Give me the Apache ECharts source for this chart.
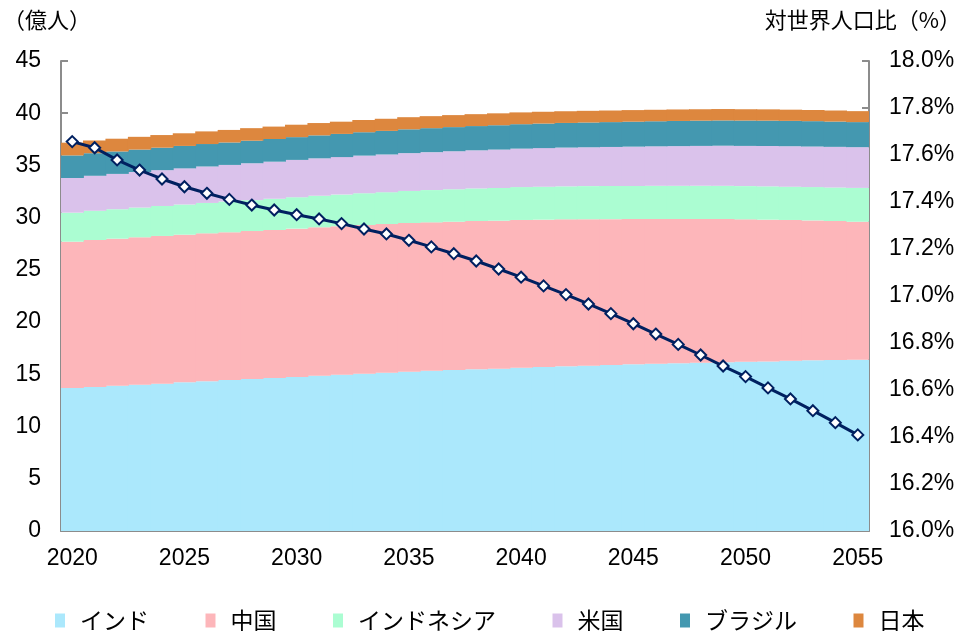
<!DOCTYPE html>
<html>
<head>
<meta charset="utf-8">
<script src="https://cdn.jsdelivr.net/npm/echarts@6/dist/echarts.min.js"></script>
<style>
html,body{margin:0;padding:0;background:#fff;}
#c{width:959px;height:631px;}
</style>
</head>
<body>
<div id="c"></div>
<script>
const years = [];
for (let y = 2020; y <= 2055; y++) years.push(String(y));

const seriesNames = ['インド', '中国', 'インドネシア', '米国', 'ブラジル', '日本'];

const india = [13.69, 13.79, 13.91, 14.01, 14.10, 14.24, 14.33, 14.46, 14.55, 14.65, 14.75, 14.87, 14.97, 15.06, 15.16, 15.25, 15.35, 15.42, 15.48, 15.54, 15.64, 15.70, 15.77, 15.83, 15.89, 15.96, 16.02, 16.05, 16.11, 16.15, 16.21, 16.24, 16.30, 16.34, 16.37, 16.40];
const china = [14.01, 14.07, 14.08, 14.11, 14.15, 14.13, 14.17, 14.14, 14.17, 14.17, 14.20, 14.21, 14.21, 14.24, 14.23, 14.24, 14.20, 14.19, 14.20, 14.17, 14.14, 14.11, 14.07, 14.02, 13.97, 13.91, 13.85, 13.82, 13.76, 13.72, 13.63, 13.57, 13.48, 13.40, 13.31, 13.21];
const indonesia = [2.78, 2.80, 2.82, 2.85, 2.87, 2.89, 2.91, 2.94, 2.96, 2.99, 3.01, 3.02, 3.03, 3.04, 3.05, 3.07, 3.09, 3.11, 3.12, 3.14, 3.15, 3.16, 3.16, 3.17, 3.17, 3.17, 3.18, 3.18, 3.18, 3.18, 3.18, 3.19, 3.19, 3.19, 3.21, 3.24];
const usa = [3.32, 3.35, 3.38, 3.40, 3.43, 3.46, 3.49, 3.51, 3.53, 3.55, 3.57, 3.58, 3.59, 3.60, 3.61, 3.62, 3.63, 3.64, 3.65, 3.67, 3.68, 3.69, 3.71, 3.72, 3.74, 3.76, 3.78, 3.80, 3.82, 3.84, 3.85, 3.86, 3.87, 3.88, 3.89, 3.90];
const brazil = [2.16, 2.16, 2.15, 2.15, 2.15, 2.15, 2.15, 2.15, 2.16, 2.17, 2.18, 2.20, 2.22, 2.24, 2.26, 2.28, 2.30, 2.31, 2.32, 2.33, 2.34, 2.35, 2.36, 2.37, 2.38, 2.39, 2.40, 2.41, 2.42, 2.42, 2.43, 2.43, 2.43, 2.43, 2.42, 2.40];
const japan = [1.22, 1.22, 1.22, 1.22, 1.21, 1.21, 1.21, 1.20, 1.20, 1.19, 1.19, 1.18, 1.17, 1.17, 1.16, 1.16, 1.15, 1.15, 1.14, 1.14, 1.13, 1.13, 1.12, 1.12, 1.11, 1.11, 1.10, 1.10, 1.09, 1.09, 1.08, 1.08, 1.07, 1.07, 1.06, 1.05];
const indiaShare = [17.657, 17.631, 17.579, 17.536, 17.498, 17.465, 17.437, 17.411, 17.387, 17.366, 17.346, 17.328, 17.308, 17.285, 17.264, 17.237, 17.209, 17.180, 17.149, 17.115, 17.080, 17.043, 17.006, 16.966, 16.925, 16.882, 16.838, 16.794, 16.749, 16.702, 16.657, 16.609, 16.562, 16.512, 16.461, 16.409];

const leftAxisName = '（億人）';
const rightAxisName = '対世界人口比（%）';

const colors = ['#ABE8FC', '#FDB6BA', '#ABFDD2', '#DAC2EB', '#4498B0', '#DD873E'];
const lineColor = '#002060';
const axisColor = '#8c8c8c';
const FONT = "'Liberation Sans', Arial, 'Noto Sans CJK JP', sans-serif";
const CJK = "'Noto Sans CJK JP', sans-serif";

const barData = [india, china, indonesia, usa, brazil, japan];

const chart = echarts.init(document.getElementById('c'), null, {renderer: 'canvas'});

const series = barData.map((d, i) => ({
  name: seriesNames[i],
  type: 'bar',
  stack: 'pop',
  data: d,
  barWidth: '104%',
  itemStyle: {color: colors[i]},
  silent: true
}));
series.push({
  name: 'share',
  type: 'line',
  yAxisIndex: 1,
  data: indiaShare,
  symbol: 'diamond',
  symbolSize: 11,
  lineStyle: {color: lineColor, width: 3},
  itemStyle: {color: '#ffffff', borderColor: lineColor, borderWidth: 2},
  z: 10
});

chart.setOption({
  animation: false,
  textStyle: {fontFamily: FONT},
  grid: {left: 61, right: 90, top: 61, bottom: 100},
  legend: {
    data: seriesNames,
    left: 50,
    top: 604,
    icon: 'rect',
    itemWidth: 10,
    itemHeight: 14,
    itemGap: 56.5,
    textStyle: {fontFamily: CJK, fontSize: 23, color: '#000', padding: [0, 0, 0, 10]}
  },
  xAxis: {
    type: 'category',
    data: years,
    boundaryGap: true,
    axisLine: {lineStyle: {color: axisColor, width: 2}},
    axisTick: {show: true, inside: true, length: 6, interval: 0, lineStyle: {color: axisColor, width: 2}},
    axisLabel: {interval: 4, color: '#000', fontSize: 23, margin: 16, fontFamily: FONT},
    splitLine: {show: false}
  },
  yAxis: [{
    type: 'value',
    min: 0, max: 45, interval: 5,
    axisLine: {show: true, lineStyle: {color: axisColor, width: 2}},
    axisTick: {show: true, inside: true, length: 7, lineStyle: {color: axisColor, width: 2}},
    axisLabel: {color: '#000', fontSize: 23, margin: 20, fontFamily: FONT},
    splitLine: {show: false}
  }, {
    type: 'value',
    min: 16, max: 18, interval: 0.2,
    position: 'right',
    axisLine: {show: true, lineStyle: {color: axisColor, width: 2}},
    axisTick: {show: true, inside: true, length: 7, lineStyle: {color: axisColor, width: 2}},
    axisLabel: {color: '#000', fontSize: 23, margin: 20, fontFamily: FONT,
      formatter: v => v.toFixed(1) + '%'},
    splitLine: {show: false}
  }],
  graphic: [{
    type: 'text', left: 3, top: 9,
    style: {text: leftAxisName, font: "22px 'Noto Sans CJK JP'", fill: '#000'}
  }, {
    type: 'text', right: -2, top: 9,
    style: {text: rightAxisName, font: "22px 'Noto Sans CJK JP'", fill: '#000'}
  }],
  series: series
});
</script>
</body>
</html>
